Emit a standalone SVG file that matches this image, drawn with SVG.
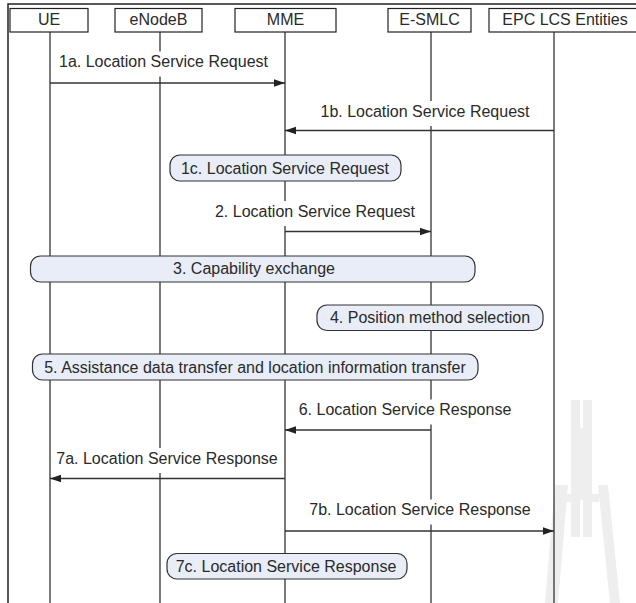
<svg xmlns="http://www.w3.org/2000/svg" width="636" height="603" viewBox="0 0 636 603">
<style>
text{font-family:"Liberation Sans",Arial,sans-serif;font-size:16px;fill:#2a2a2a;text-anchor:middle}
.box{fill:#fff;stroke:#222;stroke-width:1.2}
.life{stroke:#333;stroke-width:1.3;fill:none}
.pill{fill:#e8edf7;stroke:#333;stroke-width:1.2}
.bg{fill:#fff}
.msg{stroke:#333;stroke-width:1.3;fill:none;marker-end:url(#ah)}
.wm{fill:#eeeeee}
</style>
<defs>
<marker id="ah" markerUnits="userSpaceOnUse" markerWidth="12" markerHeight="10" refX="11" refY="4" orient="auto">
<path d="M0,0.3 L11,4 L0,7.7 Z" fill="#222"/>
</marker>
</defs>
<rect width="636" height="603" fill="#fff"/>
<g id="watermark">
<path class="wm" d="M571,400 H580 V428 H583 V400 H592 V537 H583 V500 H580 V537 H571 Z"/>
<path class="wm" d="M555,485 H568 L558,603 H545 Z"/>
<path class="wm" d="M598,485 H608 L620,603 H610 Z"/>
<rect class="wm" x="566" y="494" width="6" height="8"/>
<rect class="wm" x="591" y="494" width="8" height="8"/>
</g>
<path id="frame" d="M8,603 V4 H636" fill="none" stroke="#222" stroke-width="1.5"/>
<g id="UE"><line class="life" x1="50" y1="32" x2="50" y2="603"/><rect class="box" x="10" y="8.5" width="78" height="23.5"/><text x="49" y="25">UE</text></g>
<g id="eNodeB"><line class="life" x1="160" y1="32" x2="160" y2="603"/><rect class="box" x="115" y="8.5" width="87" height="23.5"/><text x="158.5" y="25">eNodeB</text></g>
<g id="MME"><line class="life" x1="285" y1="32" x2="285" y2="603"/><rect class="box" x="235" y="8.5" width="101" height="23.5"/><text x="285.5" y="25">MME</text></g>
<g id="E-SMLC"><line class="life" x1="431" y1="32" x2="431" y2="603"/><rect class="box" x="388" y="8.5" width="83" height="23.5"/><text x="429.5" y="25">E-SMLC</text></g>
<g id="EPC"><line class="life" x1="554" y1="32" x2="554" y2="603"/><rect class="box" x="489" y="8.5" width="152" height="23.5"/><text x="565" y="25">EPC LCS Entities</text></g>
<g id="step1c"><rect class="pill" x="170" y="155" width="231" height="26" rx="10" ry="10"/><text x="285" y="173.5">1c. Location Service Request</text></g>
<g id="step3"><rect class="pill" x="30.5" y="256" width="444.5" height="26" rx="10" ry="10"/><text x="254" y="274">3. Capability exchange</text></g>
<g id="step4"><rect class="pill" x="317" y="305" width="226" height="25.5" rx="10" ry="10"/><text x="430" y="323">4. Position method selection</text></g>
<g id="step5"><rect class="pill" x="32.5" y="354" width="445.5" height="26" rx="10" ry="10"/><text x="255" y="372.5">5. Assistance data transfer and location information transfer</text></g>
<g id="step7c"><rect class="pill" x="167" y="553.5" width="240" height="25.5" rx="10" ry="10"/><text x="286" y="572">7c. Location Service Response</text></g>
<g id="connectors">
<rect class="bg" x="56" y="51.5" width="216" height="25"/><text x="163.5" y="67">1a. Location Service Request</text>
<line class="msg" x1="50" y1="83" x2="285" y2="83"/>
<rect class="bg" x="318" y="101" width="214" height="25"/><text x="425" y="116.5">1b. Location Service Request</text>
<line class="msg" x1="554" y1="130.5" x2="285" y2="130.5"/>
<rect class="bg" x="213" y="201" width="204" height="25"/><text x="315" y="216.5">2. Location Service Request</text>
<line class="msg" x1="285" y1="231.5" x2="431" y2="231.5"/>
<rect class="bg" x="297" y="399.5" width="216" height="25"/><text x="405" y="415">6. Location Service Response</text>
<line class="msg" x1="431" y1="430" x2="285" y2="430"/>
<rect class="bg" x="54" y="448" width="226" height="25"/><text x="167" y="463.5">7a. Location Service Response</text>
<line class="msg" x1="285" y1="478.5" x2="50" y2="478.5"/>
<rect class="bg" x="308" y="499.5" width="224" height="25"/><text x="420" y="515">7b. Location Service Response</text>
<line class="msg" x1="285" y1="531" x2="554" y2="531"/>
</g>
</svg>
